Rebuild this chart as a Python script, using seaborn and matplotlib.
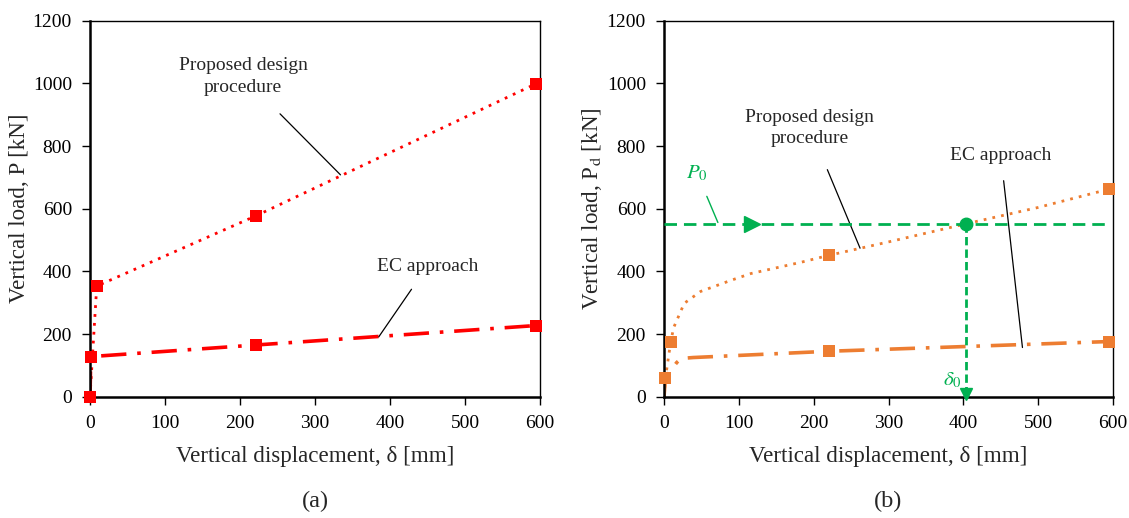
import matplotlib
matplotlib.use("Agg")
import matplotlib.pyplot as plt
import seaborn as sns
import pandas as pd

# ---------------- data ----------------
# (a) left panel
a_prop_x = [0, 9, 221, 594]
a_prop_y = [0, 353, 577, 998]
a_prop_mx = [9, 221, 594]
a_prop_my = [353, 577, 998]
a_ec_x = [0, 1, 221, 594]
a_ec_y = [0, 128, 165, 227]

# (b) right panel
b_prop_x = [0, 2, 9, 13, 27, 49, 89, 116, 183, 220, 300, 404, 500, 594]
b_prop_y = [0, 61, 176, 221, 298, 336, 371, 393, 429, 451, 494, 552, 604, 662]
b_prop_mx = [2, 9, 220, 594]
b_prop_my = [61, 176, 451, 662]
b_ec_x = [0, 2, 17, 23, 39, 220, 594]
b_ec_y = [0, 61, 109, 122, 125, 145, 176]
b_ec_mx = [220, 594]
b_ec_my = [145, 176]

P0 = 552
delta0 = 404
P0_x_end = 594

x_ticks = [0, 100, 200, 300, 400, 500, 600]
y_ticks = [0, 200, 400, 600, 800, 1000, 1200]

RED = "#FF0000"
ORANGE = "#ED7D31"
GREEN = "#00B050"

sns.set_style("ticks")
plt.rcParams['font.family'] = ['Liberation Serif', 'DejaVu Serif']
plt.rcParams['mathtext.fontset'] = 'stix'

fig = plt.figure(figsize=(11.29, 5.18), dpi=100)
axA = fig.add_axes([90/1129, 1-396.7/518, 450/1129, 376/518])
axB = fig.add_axes([664/1129, 1-396.7/518, 449/1129, 376/518])

DOT = (0, (1, 2.2))
DASHDOT = (0, (7, 3, 1, 3))

def line(ax, x, y, color, ls, lw):
    sns.lineplot(x=x, y=y, ax=ax, color=color, sort=False, estimator=None,
                 linewidth=lw, linestyle=ls, legend=False)

def marks(ax, x, y, color):
    sns.scatterplot(x=x, y=y, ax=ax, color=color, marker='s', s=85,
                    edgecolor=color, linewidth=0, zorder=5, legend=False,
                    clip_on=False)

ANN_FS = 14

# ---- panel (a)
line(axA, a_prop_x, a_prop_y, RED, DOT, 2.0)
line(axA, a_ec_x, a_ec_y, RED, DASHDOT, 2.6)
marks(axA, a_prop_mx, a_prop_my, RED)
marks(axA, a_ec_x, a_ec_y, RED)

axA.annotate("Proposed design\nprocedure", xy=(334, 708), xytext=(204, 1022),
             ha='center', va='center', fontsize=ANN_FS, linespacing=1.35,
             arrowprops=dict(arrowstyle='-', color='black', lw=0.9,
                             shrinkA=15, shrinkB=0))
axA.annotate("EC approach", xy=(385, 191), xytext=(450, 417),
             ha='center', va='center', fontsize=ANN_FS,
             arrowprops=dict(arrowstyle='-', color='black', lw=0.9,
                             shrinkA=10, shrinkB=0))

# ---- panel (b)
line(axB, b_prop_x, b_prop_y, ORANGE, DOT, 2.0)
line(axB, b_ec_x, b_ec_y, ORANGE, DASHDOT, 2.6)
marks(axB, b_prop_mx, b_prop_my, ORANGE)
marks(axB, b_ec_mx, b_ec_my, ORANGE)

# green construction
axB.plot([0, P0_x_end], [P0, P0], color=GREEN, lw=2.0, ls=(0, (4.5, 2.5)), zorder=4)
axB.plot([delta0, delta0], [P0, 0], color=GREEN, lw=2.0, ls=(0, (3, 1.5)), zorder=4)
axB.plot([delta0], [P0], marker='o', ms=9, color=GREEN, zorder=6)
axB.plot([118], [P0], marker='>', ms=11, color=GREEN, zorder=6)
axB.plot([delta0], [8], marker='v', ms=8, color=GREEN, zorder=6, clip_on=False)
axB.annotate(r"$\mathit{P_0}$", xy=(72, 556), xytext=(44, 714), color=GREEN,
             ha='center', va='center', fontsize=15,
             arrowprops=dict(arrowstyle='-', color=GREEN, lw=1.0,
                             shrinkA=8, shrinkB=0))
axB.text(385, 51, r"$\mathit{\delta_0}$", color=GREEN, ha='center', va='center', fontsize=15)

axB.annotate("Proposed design\nprocedure", xy=(262, 474), xytext=(195, 858),
             ha='center', va='center', fontsize=ANN_FS, linespacing=1.35,
             arrowprops=dict(arrowstyle='-', color='black', lw=0.9,
                             shrinkA=15, shrinkB=0))
axB.annotate("EC approach", xy=(479, 157), xytext=(450, 771),
             ha='center', va='center', fontsize=ANN_FS,
             arrowprops=dict(arrowstyle='-', color='black', lw=0.9,
                             shrinkA=10, shrinkB=0))

for ax, ylab, tag in [(axA, "Vertical load, P [kN]", "(a)"),
                      (axB, r"Vertical load, P$_\mathrm{d}$ [kN]", "(b)")]:
    ax.set_xlim(0, 600)
    ax.set_ylim(0, 1200)
    ax.set_xticks(x_ticks)
    ax.set_yticks(y_ticks)
    ax.tick_params(axis='both', direction='out', length=6, width=1.0,
                   labelsize=14, colors='black')
    ax.tick_params(axis='x', pad=7)
    ax.tick_params(axis='y', pad=7)
    for s in ['left', 'bottom']:
        ax.spines[s].set_linewidth(1.8)
    for s in ['top', 'right']:
        ax.spines[s].set_linewidth(1.0)
    for s in ax.spines.values():
        s.set_color('black')
        s.set_visible(True)
    ax.set_xlabel("Vertical displacement, δ [mm]", fontsize=16.6, labelpad=10)
    ax.set_ylabel(ylab, fontsize=16.6, labelpad=2)
    ax.text(0.5, -0.25, tag, transform=ax.transAxes, ha='center', va='top', fontsize=17.5)

fig.savefig("out.png", dpi=100)
